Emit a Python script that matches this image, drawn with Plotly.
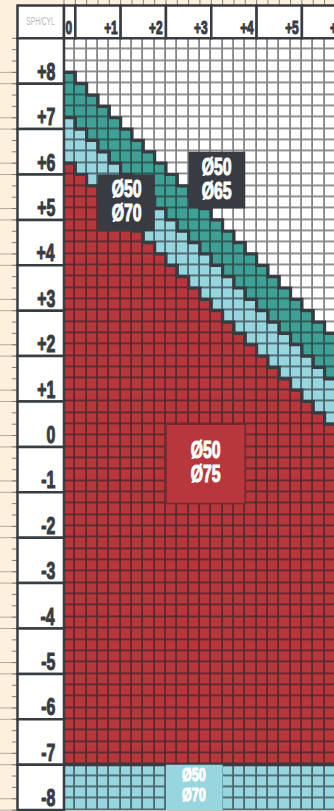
import plotly.graph_objects as go

# ---------------- data ----------------
CYL = [0.0, 0.25, 0.5, 0.75, 1.0, 1.25, 1.5, 1.75, 2.0, 2.25, 2.5, 2.75, 3.0,
       3.25, 3.5, 3.75, 4.0, 4.25, 4.5, 4.75, 5.0, 5.25, 5.5, 5.75, 6.0]
SPH = [8.75, 8.5, 8.25, 8.0, 7.75, 7.5, 7.25, 7.0, 6.75, 6.5, 6.25, 6.0,
       5.75, 5.5, 5.25, 5.0, 4.75, 4.5, 4.25, 4.0, 3.75, 3.5, 3.25, 3.0,
       2.75, 2.5, 2.25, 2.0, 1.75, 1.5, 1.25, 1.0, 0.75, 0.5, 0.25, 0.0,
       -0.25, -0.5, -0.75, -1.0, -1.25, -1.5, -1.75, -2.0, -2.25, -2.5, -2.75, -3.0,
       -3.25, -3.5, -3.75, -4.0, -4.25, -4.5, -4.75, -5.0, -5.25, -5.5, -5.75, -6.0,
       -6.25, -6.5, -6.75, -7.0, -7.25, -7.5, -7.75, -8.0]

# highest SPH available per CYL column, per diameter pair
MAX_SPH_D65 = [8.0, 7.75, 7.5, 7.25, 7.0, 6.75, 6.5, 6.25, 6.0, 5.75, 5.5, 5.25, 5.0,
               4.75, 4.5, 4.25, 4.0, 3.75, 3.5, 3.25, 3.0, 2.75, 2.5, 2.25, 2.0]
MAX_SPH_D70 = [7.0, 6.75, 6.5, 6.25, 6.0, 5.75, 5.5, 5.25, 5.0, 4.75, 4.5, 4.25, 4.0,
               3.75, 3.5, 3.25, 3.0, 2.75, 2.5, 2.25, 2.0, 1.75, 1.5, 1.25, 1.0]
MAX_SPH_D75 = [6.0, 5.75, 5.5, 5.25, 5.0, 4.75, 4.5, 4.25, 4.0, 3.75, 3.5, 3.25, 3.0,
               2.75, 2.5, 2.25, 2.0, 1.75, 1.5, 1.25, 1.0, 0.75, 0.5, 0.25, 0.0]
MIN_SPH_D75 = -7.0   # below this the Ø50/Ø70 pair applies

CYL_TICKS = [0, 1, 2, 3, 4, 5, 6]
CYL_LABELS = ["0", "+1", "+2", "+3", "+4", "+5", "+6"]
SPH_TICKS = [8, 7, 6, 5, 4, 3, 2, 1, 0, -1, -2, -3, -4, -5, -6, -7, -8]
SPH_LABELS = ["+8", "+7", "+6", "+5", "+4", "+3", "+2", "+1", "0",
              "-1", "-2", "-3", "-4", "-5", "-6", "-7", "-8"]
ZONE_TEXT_65 = ["Ø50", "Ø65"]
ZONE_TEXT_70 = ["Ø50", "Ø70"]
ZONE_TEXT_75 = ["Ø50", "Ø75"]

# ---------------- styling ----------------
CREAM = "#fdf1de"
DARK = "#383c42"
WHITE = "#ffffff"
TEAL = "#3fa096"
LBLUE = "#98d6df"
RED = "#b8373d"
FONT = "Liberation Sans, Arial, sans-serif"

X_RANGE = [-1.537, 5.833]
Y_RANGE = [-8.145, 9.719]
PX_PER_UNIT_X = 45.32
HEADER_TOP = 9.597
LABEL_LEFT = -1.151


def zone(s, i):
    if s < MIN_SPH_D75:
        return 2
    if s <= MAX_SPH_D75[i]:
        return 3
    if s <= MAX_SPH_D70[i]:
        return 2
    if s <= MAX_SPH_D65[i]:
        return 1
    return 0


z = [[zone(s, i) for i in range(len(CYL))] for s in SPH]


def discrete(cols):
    cs = []
    for k, c in enumerate(cols):
        cs.append([k / len(cols), c])
        cs.append([(k + 1) / len(cols), c])
    return cs


fig = go.Figure()
# under-layer: colour of the grid lines
fig.add_trace(go.Heatmap(
    x=CYL, y=SPH, z=z, zmin=-0.5, zmax=3.5, showscale=False, hoverinfo="skip",
    colorscale=discrete(["#858585", "#2d5653", "#4a666b", "#5c2a2e"])))
# cells
fig.add_trace(go.Heatmap(
    x=CYL, y=SPH, z=z, zmin=-0.5, zmax=3.5, showscale=False, hoverinfo="skip",
    xgap=1.8, ygap=1.8,
    colorscale=discrete([WHITE, TEAL, LBLUE, RED])))

# zone boundaries
half = 0.125
for lim in (MAX_SPH_D65, MAX_SPH_D70, MAX_SPH_D75):
    xs = [c - half for c in CYL] + [CYL[-1] + half]
    ys = [v + half for v in lim] + [lim[-1] + half]
    fig.add_trace(go.Scatter(x=xs, y=ys, mode="lines", line_shape="hv",
                             line=dict(color=DARK, width=3.2), hoverinfo="skip",
                             showlegend=False))
fig.add_trace(go.Scatter(x=[CYL[0] - half, CYL[-1] + half],
                         y=[MIN_SPH_D75 - half] * 2, mode="lines",
                         line=dict(color=DARK, width=3.2), hoverinfo="skip",
                         showlegend=False))

# small ruler ticks along the top and left outer borders
fig.add_trace(go.Scatter(x=[c - half for c in CYL] + [CYL[-1] + half],
                         y=[HEADER_TOP + 0.03] * (len(CYL) + 1), mode="markers",
                         marker=dict(symbol="line-ns", size=6,
                                     line=dict(color="#7d7d7d", width=1)),
                         hoverinfo="skip", showlegend=False))
fig.add_trace(go.Scatter(x=[LABEL_LEFT - 0.03] * (len(SPH) + 1),
                         y=[v + half for v in SPH] + [SPH[-1] - half], mode="markers",
                         marker=dict(symbol="line-ew", size=6,
                                     line=dict(color="#7d7d7d", width=1)),
                         hoverinfo="skip", showlegend=False))

shapes = []
annotations = []

# left margin leader lines
for s in SPH_TICKS:
    for yy in (s + half, s - half):
        shapes.append(dict(type="line", xref="x", yref="y", x0=X_RANGE[0], x1=LABEL_LEFT,
                           y0=yy, y1=yy, line=dict(color="rgba(120,110,95,0.55)", width=1),
                           layer="above"))

# header boxes
shapes.append(dict(type="rect", xref="x", yref="y", x0=LABEL_LEFT, x1=-half,
                   y0=SPH[0] + half, y1=HEADER_TOP, fillcolor=WHITE,
                   line=dict(color=DARK, width=2.5), layer="above"))
annotations.append(dict(x=(LABEL_LEFT - half) / 2, y=(SPH[0] + half + HEADER_TOP) / 2,
                        xref="x", yref="y", text="SPH/CYL", showarrow=False,
                        font=dict(family=FONT, size=10, color="#b8b8b8")))
for t, lab in zip(CYL_TICKS, CYL_LABELS):
    x0 = -half if t == 0 else t - 1 + half
    x1 = t + half
    shapes.append(dict(type="rect", xref="x", yref="y", x0=x0, x1=x1,
                       y0=SPH[0] + half, y1=HEADER_TOP, fillcolor=WHITE,
                       line=dict(color=DARK, width=2.5), layer="above"))
    ax = min(x1, X_RANGE[1] - 0.01)
    annotations.append(dict(x=ax, y=SPH[0] + half, xref="x", yref="y", text=lab,
                            showarrow=False, xanchor="right", yanchor="bottom",
                            xshift=(x1 - ax) * PX_PER_UNIT_X - 1, yshift=-2,
                            font=dict(family=FONT, size=18, color=DARK, weight="bold")))

# row label boxes
for s, lab in zip(SPH_TICKS, SPH_LABELS):
    shapes.append(dict(type="rect", xref="x", yref="y", x0=LABEL_LEFT, x1=-half,
                       y0=s - half, y1=s + 1 - half, fillcolor=WHITE,
                       line=dict(color=DARK, width=2.5), layer="above"))
    annotations.append(dict(x=-half, y=s - half, xref="x", yref="y", text=lab,
                            showarrow=False, xanchor="right", yanchor="bottom",
                            xshift=-7, yshift=-3,
                            font=dict(family=FONT, size=24, color=DARK, weight="bold")))


def zone_box(cx0, cx1, sy0, sy1, fill, texts, size, gap, lift, border=None):
    shapes.append(dict(type="rect", xref="x", yref="y", x0=cx0 - half, x1=cx1 + half,
                       y0=sy0 - half, y1=sy1 + half, fillcolor=fill,
                       line=dict(color=border or fill, width=1.8 if border else 0),
                       layer="above"))
    cx = (cx0 + cx1) / 2
    cy = (sy0 + sy1) / 2
    for k, tx in enumerate(texts):
        annotations.append(dict(x=cx, y=cy, xref="x", yref="y", text=tx, showarrow=False,
                                yshift=lift + (gap / 2 if k == 0 else -gap / 2),
                                font=dict(family=FONT, size=size, color=WHITE, weight="bold")))


zone_box(2.75, 3.75, 5.25, 6.25, DARK, ZONE_TEXT_65, 24, 24, 2)
zone_box(0.75, 1.75, 4.75, 5.75, DARK, ZONE_TEXT_70, 24, 24, 2)
zone_box(2.25, 3.75, -1.25, 0.25, RED, ZONE_TEXT_75, 24, 24, 2, border="#7a2a2f")
zone_box(2.25, 3.25, -8.0, -7.25, LBLUE, ZONE_TEXT_70, 19, 20.5, 3)

fig.update_layout(
    width=334, height=811, margin=dict(l=0, r=0, t=0, b=0),
    paper_bgcolor=CREAM, plot_bgcolor=CREAM,
    xaxis=dict(range=X_RANGE, visible=False, fixedrange=True),
    yaxis=dict(range=Y_RANGE, visible=False, fixedrange=True),
    shapes=shapes, annotations=annotations, showlegend=False,
)

# page without body margin; narrow, heavy rendering of the lettering
POST = """
document.body.style.margin='0';
document.body.style.overflow='hidden';
var gd=document.getElementById('{plot_id}');
gd.querySelectorAll('g.annotation').forEach(function(g){
  var i=+g.getAttribute('data-index');
  var a=gd.layout.annotations[i];
  var t=g.querySelector('text');
  if(!t) return;
  t.style.transformBox='fill-box';
  t.style.transformOrigin=(a.xanchor==='right'?'right':'center')+' center';
  t.style.transform='scaleX(0.66)';
  if(a.font && a.font.weight==='bold'){
    t.style.stroke=t.style.fill;
    t.style.strokeWidth='1.1px';
    t.style.strokeLinejoin='round';
  }
});
"""
fig.write_html("out.html", post_script=POST, config={"displayModeBar": False})
